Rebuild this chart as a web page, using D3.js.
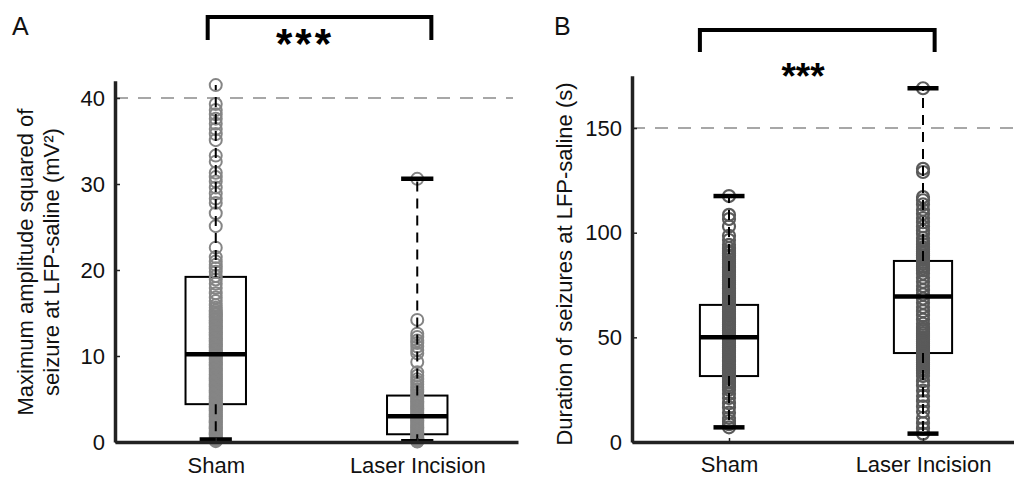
<!DOCTYPE html>
<html>
<head>
<meta charset="utf-8">
<script src="https://cdn.jsdelivr.net/npm/d3@7"></script>
<style>
  body { margin: 0; background: #fff; }
  text { font-family: "Liberation Sans", Arial, Helvetica, sans-serif; }
</style>
</head>
<body>
<div id="chart"></div>
<script>
// categories
var groups = ["Sham", "Laser Incision"];

// panel A: maximum amplitude squared (mV^2), one value per seizure
var ampSham = [41.5, 39.3, 38.6, 38.1, 37.6, 37.0, 36.4, 35.8, 35.1, 33.3, 32.6, 31.3, 30.8, 30.3, 29.6,
  28.9, 28.3, 27.8, 26.6, 25.1, 22.6, 21.5, 21.0, 20.6, 20.2, 19.8, 19.3, 18.9, 18.4, 17.9, 17.3,
  16.8, 16.4, 15.9, 15.6, 15.3, 15.1, 14.9, 14.8, 14.6, 14.4, 14.2, 14.1, 13.9, 13.7, 13.5, 13.4,
  13.2, 13.0, 12.8, 12.7, 12.5, 12.3, 12.1, 12.0, 11.8, 11.6, 11.4, 11.3, 11.1, 10.9, 10.7, 10.6,
  10.4, 10.2, 10.0, 9.9, 9.7, 9.5, 9.3, 9.2, 9.0, 8.8, 8.6, 8.5, 8.3, 8.1, 7.9, 7.8, 7.6, 7.4,
  7.2, 7.1, 6.9, 6.7, 6.5, 6.4, 6.2, 6.0, 5.8, 5.7, 5.5, 5.3, 5.1, 5.0, 4.8, 4.6, 4.4, 4.3, 4.1,
  3.9, 3.7, 3.6, 3.4, 3.2, 3.0, 2.9, 2.7, 2.5, 2.3, 2.2, 2.0, 1.8, 1.6, 1.5, 1.3, 1.1, 0.9, 0.8,
  0.6, 0.4, 0.3, 0.2, 0.1];
var ampLaser = [30.6, 14.2, 12.6, 12.2, 11.8, 11.5, 11.1, 10.7, 10.3, 9.3, 8.1, 7.7, 7.3, 7.0, 6.7,
  6.4, 6.1, 5.8, 5.5, 5.3, 5.1, 4.9, 4.7, 4.5, 4.3, 4.1, 3.9, 3.7, 3.5, 3.3, 3.1, 2.9, 2.7, 2.5,
  2.3, 2.1, 1.9, 1.7, 1.5, 1.3, 1.1, 0.9, 0.7, 0.5, 0.4, 0.3, 0.2, 0.1, 0.05];

// panel B: seizure duration (s)
var durSham = [117.5, 108.5, 106.5, 103, 98.5, 96.5, 94.2, 92.6, 91.1, 90.2, 89.1, 88.3, 87.2, 86.1,
  85.2, 84.1, 83.3, 82.2, 81.1, 80.2, 79.1, 78.3, 77.2, 76.1, 75.2, 74.1, 73.3, 72.2, 71.1, 70.2,
  69.1, 68.3, 67.2, 66.1, 65.2, 64.1, 63.3, 62.2, 61.1, 60.2, 59.1, 58.3, 57.2, 56.1, 55.2, 54.1,
  53.3, 52.2, 51.1, 50.2, 49.1, 48.3, 47.2, 46.1, 45.2, 44.1, 43.3, 42.2, 41.1, 40.2, 39.1, 38.3,
  37.2, 36.1, 35.2, 34.1, 33.3, 32.2, 31.1, 30.2, 29.1, 28.3, 27.2, 26.1, 25.0, 23.0, 21.0, 18.5,
  16.5, 14.0, 11.5, 10.0, 8.5, 7.0];
var durLaser = [169, 130.5, 129, 117, 115.5, 113.5, 111, 109, 107, 105, 103, 101, 99.5, 97.5, 96,
  94.5, 93, 92, 91, 90, 89, 88, 87, 86, 85, 84, 83, 82, 80.5, 78.5, 76.5, 74.5, 72.5, 70.5, 68.5,
  66.5, 64.5, 62.5, 60.5, 58.5, 56.5, 55, 54, 53, 52, 51, 50, 49, 48, 47, 46, 45, 44, 43, 42, 41,
  40, 39, 38, 37, 36, 35, 34, 33, 31.5, 29, 27, 24.5, 22, 19.5, 17, 14.5, 11.5, 9, 6.5, 4];

// box summaries [lower whisker, q1, median, q3, upper whisker]
var ampBoxSham = [0.3, 4.4, 10.2, 19.2, 41.5];
var ampBoxLaser = [0.1, 0.9, 3.0, 5.4, 30.6];
var durBoxSham = [7, 31.5, 50, 65.5, 117.5];
var durBoxLaser = [4, 42.5, 69.5, 86.5, 169];

// ticks, reference lines, significance
var ampTicks = [0, 10, 20, 30, 40];
var durTicks = [0, 50, 100, 150];
var ampRef = 40;
var durRef = 150;
var sigLabel = "***";

var W = 1014, H = 479;

var svg = d3.select("#chart")
    .append("svg")
    .attr("width", W)
    .attr("height", H);

var axisColor = "#222";

function drawPanel(cfg) {
    var g = svg.append("g");

    var x = d3.scaleLinear().domain([0.5, 2.5]).range(cfg.xRange);
    var y = d3.scaleLinear().domain(cfg.yDomain).range(cfg.yRange);
    var unit = x(2) - x(1);

    // dashed reference line
    g.append("line")
        .attr("x1", x(0.5)).attr("x2", cfg.refEnd)
        .attr("y1", y(cfg.ref)).attr("y2", y(cfg.ref))
        .attr("stroke", "#8a8a8a")
        .attr("stroke-width", 1.6)
        .attr("stroke-dasharray", "13,10");

    // boxes (under the points)
    cfg.boxes.forEach(function(b, i) {
        var cx = x(i + 1);
        g.append("rect")
            .attr("x", cx - unit * 0.15)
            .attr("y", y(b[3]))
            .attr("width", unit * 0.3)
            .attr("height", y(b[1]) - y(b[3]))
            .attr("fill", "none")
            .attr("stroke", "#000")
            .attr("stroke-width", 2);
    });

    // points
    cfg.points.forEach(function(vals, i) {
        g.append("g")
            .selectAll("circle")
            .data(vals)
            .enter()
            .append("circle")
            .attr("cx", x(i + 1))
            .attr("cy", function(d) { return y(d); })
            .attr("r", 6)
            .attr("fill", "none")
            .attr("stroke", cfg.pointColor)
            .attr("stroke-width", cfg.pointStroke);
    });

    // whiskers, caps and medians on top
    cfg.boxes.forEach(function(b, i) {
        var cx = x(i + 1);
        g.append("line")
            .attr("x1", cx).attr("x2", cx)
            .attr("y1", y(b[3])).attr("y2", y(b[4]))
            .attr("stroke", "#000").attr("stroke-width", 2)
            .attr("stroke-dasharray", "10,7");
        g.append("line")
            .attr("x1", cx).attr("x2", cx)
            .attr("y1", y(b[1])).attr("y2", y(b[0]))
            .attr("stroke", "#000").attr("stroke-width", 2)
            .attr("stroke-dasharray", "10,7");
        var caps = cfg.topCaps[i] ? [b[0], b[4]] : [b[0]];
        caps.forEach(function(v) {
            g.append("line")
                .attr("x1", cx - unit * 0.08).attr("x2", cx + unit * 0.08)
                .attr("y1", y(v)).attr("y2", y(v))
                .attr("stroke", "#000").attr("stroke-width", 4.5);
        });
        g.append("line")
            .attr("x1", cx - unit * 0.15).attr("x2", cx + unit * 0.15)
            .attr("y1", y(b[2])).attr("y2", y(b[2]))
            .attr("stroke", "#000").attr("stroke-width", 4.5);
    });

    // y axis
    var ya = g.append("g")
        .attr("transform", "translate(" + x(0.5) + ",0)")
        .call(d3.axisLeft(y).tickValues(cfg.ticks).tickSize(-5).tickSizeOuter(0).tickPadding(10));
    // x axis
    var xa = g.append("g")
        .attr("transform", "translate(0," + y(0) + ")")
        .call(d3.axisBottom(x).tickValues([1, 2]).tickSize(-4).tickSizeOuter(0)
            .tickPadding(cfg.xPad)
            .tickFormat(function(d) { return groups[d - 1]; }));
    [ya, xa].forEach(function(a) {
        a.select(".domain").attr("stroke", axisColor).attr("stroke-width", 3.5);
        a.selectAll(".tick line").attr("stroke", axisColor).attr("stroke-width", 1.5);
        a.selectAll(".tick text")
            .attr("fill", "#111")
            .style("font-size", "22px")
            .style("font-family", "'Liberation Sans', Arial, sans-serif");
    });

    // y label
    cfg.yLabel.forEach(function(t, i) {
        g.append("text")
            .attr("transform", "translate(" + cfg.yLabelX[i] + "," + cfg.yLabelY + ") rotate(-90)")
            .attr("text-anchor", "middle")
            .style("font-size", "22px")
            .attr("fill", "#111")
            .text(t);
    });

    // panel letter
    g.append("text")
        .attr("x", cfg.letterX).attr("y", 35)
        .style("font-size", "25px")
        .attr("fill", "#111")
        .text(cfg.letter);

    // significance bracket
    var bx1 = x(cfg.bracket[0]), bx2 = x(cfg.bracket[1]);
    g.append("path")
        .attr("d", "M" + bx1 + "," + cfg.bracketY[1] + "V" + cfg.bracketY[0] +
            "H" + bx2 + "V" + cfg.bracketY[1])
        .attr("fill", "none")
        .attr("stroke", "#000")
        .attr("stroke-width", 4);
    g.append("text")
        .attr("x", cfg.starX)
        .attr("y", cfg.starY)
        .attr("text-anchor", "middle")
        .style("font-size", cfg.starSize + "px")
        .style("font-weight", "bold")
        .style("letter-spacing", cfg.starSpacing + "px")
        .attr("fill", "#000")
        .text(sigLabel);
}

drawPanel({
    letter: "A", letterX: 12,
    xRange: [115, 518], yDomain: [0, 42], yRange: [442, 80.8],
    ticks: ampTicks, ref: ampRef, refEnd: 513,
    points: [ampSham, ampLaser], boxes: [ampBoxSham, ampBoxLaser], topCaps: [false, true],
    pointColor: "#858585", pointStroke: 2, xPad: 15,
    yLabel: ["Maximum amplitude squared of", "seizure at LFP-saline (mV\u00b2)"],
    yLabelX: [33, 59], yLabelY: 262,
    bracket: [0.96, 2.07], bracketY: [17, 40],
    starX: 305, starY: 58, starSize: 42, starSpacing: 3
});

drawPanel({
    letter: "B", letterX: 554,
    xRange: [632, 1020], yDomain: [0, 175], yRange: [442, 75.7],
    ticks: durTicks, ref: durRef, refEnd: 1014,
    points: [durSham, durLaser], boxes: [durBoxSham, durBoxLaser], topCaps: [true, true],
    pointColor: "#5a5a5a", pointStroke: 2.2, xPad: 14,
    yLabel: ["Duration of seizures at LFP-saline (s)"],
    yLabelX: [572], yLabelY: 264,
    bracket: [0.85, 2.06], bracketY: [30, 52],
    starX: 803, starY: 89, starSize: 37, starSpacing: 0
});
</script>
</body>
</html>
